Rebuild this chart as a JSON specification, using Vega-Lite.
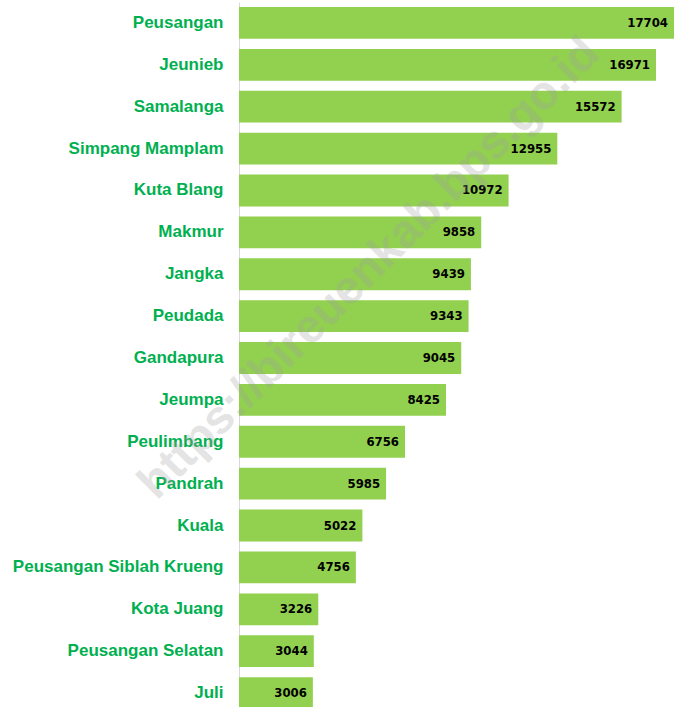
{
  "$schema": "https://vega.github.io/schema/vega-lite/v6.json",
  "autosize": "none",
  "padding": {"left": 239, "top": 2, "right": 1, "bottom": 0},
  "width": 435,
  "height": 712,
  "config": {"view": {"stroke": null}},
  "data": {"values": [
    {"kec": "Peusangan", "v": 17704},
    {"kec": "Jeunieb", "v": 16971},
    {"kec": "Samalanga", "v": 15572},
    {"kec": "Simpang Mamplam", "v": 12955},
    {"kec": "Kuta Blang", "v": 10972},
    {"kec": "Makmur", "v": 9858},
    {"kec": "Jangka", "v": 9439},
    {"kec": "Peudada", "v": 9343},
    {"kec": "Gandapura", "v": 9045},
    {"kec": "Jeumpa", "v": 8425},
    {"kec": "Peulimbang", "v": 6756},
    {"kec": "Pandrah", "v": 5985},
    {"kec": "Kuala", "v": 5022},
    {"kec": "Peusangan Siblah Krueng", "v": 4756},
    {"kec": "Kota Juang", "v": 3226},
    {"kec": "Peusangan Selatan", "v": 3044},
    {"kec": "Juli", "v": 3006}
  ]},
  "encoding": {
    "y": {"field": "kec", "type": "nominal", "sort": null,
      "scale": {"paddingInner": 0.24, "paddingOuter": 0.12},
      "axis": {"title": null, "ticks": false, "domainColor": "#d9d9d9", "domainWidth": 1,
        "labelColor": "#00B050", "labelFont": "Liberation Sans", "labelFontSize": 17,
        "labelFontWeight": "bold", "labelPadding": 16, "labelLimit": 300}},
    "x": {"field": "v", "type": "quantitative", "scale": {"domain": [0, 17704], "nice": false}, "axis": null}
  },
  "layer": [
    {"mark": {"type": "bar", "color": "#92D050"}},
    {"mark": {"type": "text", "align": "right", "dx": -6, "font": "DejaVu Sans Condensed", "fontSize": 13, "fontWeight": "bold", "color": "#000000"},
     "encoding": {"text": {"field": "v", "type": "quantitative", "format": "d"}}},
    {"data": {"values": [{"wm": "https://bireuenkab.bps.go.id", "kec": "Jangka", "v": 5535}]},
     "mark": {"type": "text", "angle": -45, "font": "Liberation Sans", "fontSize": 47, "fontWeight": "bold", "color": "#a0a0a0", "opacity": 0.28, "dy": -8},
     "encoding": {"text": {"field": "wm", "type": "nominal"}}}
  ]
}
